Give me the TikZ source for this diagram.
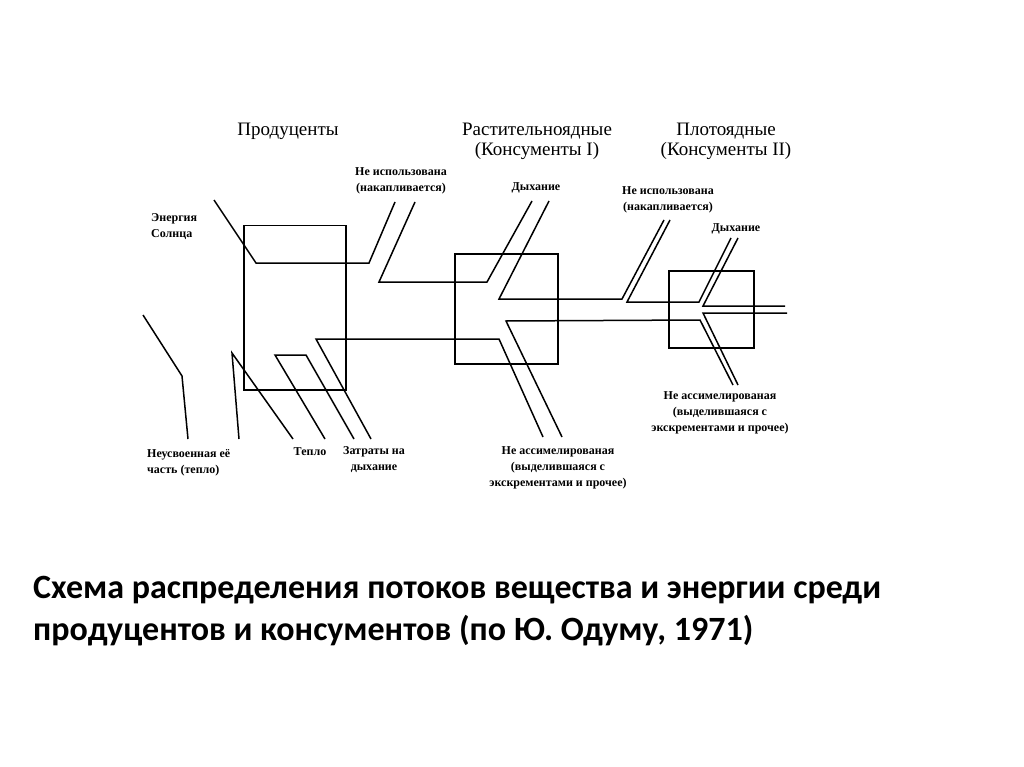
\documentclass[tikz,border=0pt]{standalone}
\usepackage{fontspec}
\setmainfont{Liberation Serif}
\newfontfamily\titlefont{Carlito}
\usetikzlibrary{positioning}
\tikzset{
  flow/.style ={draw=black, line width=1.5pt, line join=miter},
  box/.style  ={draw=black, line width=1.5pt, anchor=north west, inner sep=0pt},
  head/.style ={font=\fontsize{19}{20}\selectfont, align=center, inner sep=0pt},
  lbl/.style  ={font=\bfseries\fontsize{12}{16}\selectfont, align=center, inner sep=0pt},
  ttl/.style  ={font=\titlefont\bfseries\fontsize{34}{42}\selectfont, align=left,
                anchor=west, inner sep=0pt},
}
\begin{document}
\begin{tikzpicture}[x=1pt,y=-1pt]
\useasboundingbox[fill=white] (0,0) rectangle (1024,767);

% trophic level boxes
\node[box,minimum width=102pt,minimum height=164pt] (prod) at (243,225) {};
\node[box,minimum width=103pt,minimum height=110pt] (herb) at (454,253) {};
\node[box,minimum width=85pt,minimum height=77pt]   (carn) at (668,270) {};

% headings
\node[head] (hprod) at (288,131) {Продуценты};
\node[head] (hherb) at (537,141) {Растительноядные\\(Консументы I)};
\node[head] (hcarn) at (726,141) {Плотоядные\\(Консументы II)};

% flow band
\draw[flow] (214,200) -- (256,263) -- (369,263) -- (395,202);
\draw[flow] (415,202) -- (379,282) -- (487,282) -- (532,201);
\draw[flow] (549,201) -- (499,299) -- (622,299) -- (664,220);
\draw[flow] (670,220) -- (627,302) -- (699,302) -- (731,238);
\draw[flow] (738,238) -- (703,306) -- (785,306);
\draw[flow] (787,313) -- (703,313) -- (738,385);
\draw[flow] (733,385) -- (700,320) -- (506,321) -- (562,437);
\draw[flow] (543,437) -- (499,339) -- (316,339) -- (371,439);
\draw[flow] (354,439) -- (306,355) -- (275,355) -- (325,439);
\draw[flow] (293,439) -- (232,353) -- (239,439);
\draw[flow] (188,439) -- (182,376) -- (143,315);

% flow labels
\node[lbl,anchor=west,align=left] (sun) at (151,227) {Энергия\\Солнца};
\node[lbl] (acc1)  at (401,181) {Не использована\\(накапливается)};
\node[lbl] (resp1) at (536,188) {Дыхание};
\node[lbl] (acc2)  at (668,200) {Не использована\\(накапливается)};
\node[lbl] (resp2) at (736,229) {Дыхание};
\node[lbl,anchor=west,align=left] (lost) at (147,463) {Неусвоенная её\\часть (тепло)};
\node[lbl] (heat)  at (310,452) {Тепло};
\node[lbl] (cost)  at (374,460) {Затраты на\\дыхание};
\node[lbl] (exc1)  at (558,468) {Не ассимелированая\\(выделившаяся с\\экскрементами и прочее)};
\node[lbl] (exc2)  at (720,413) {Не ассимелированая\\(выделившаяся с\\экскрементами и прочее)};

% caption
\node[ttl] (title) at (33,611) {Схема распределения потоков вещества и энергии среди\\
  продуцентов и консументов (по Ю. Одуму, 1971)};
\end{tikzpicture}
\end{document}
